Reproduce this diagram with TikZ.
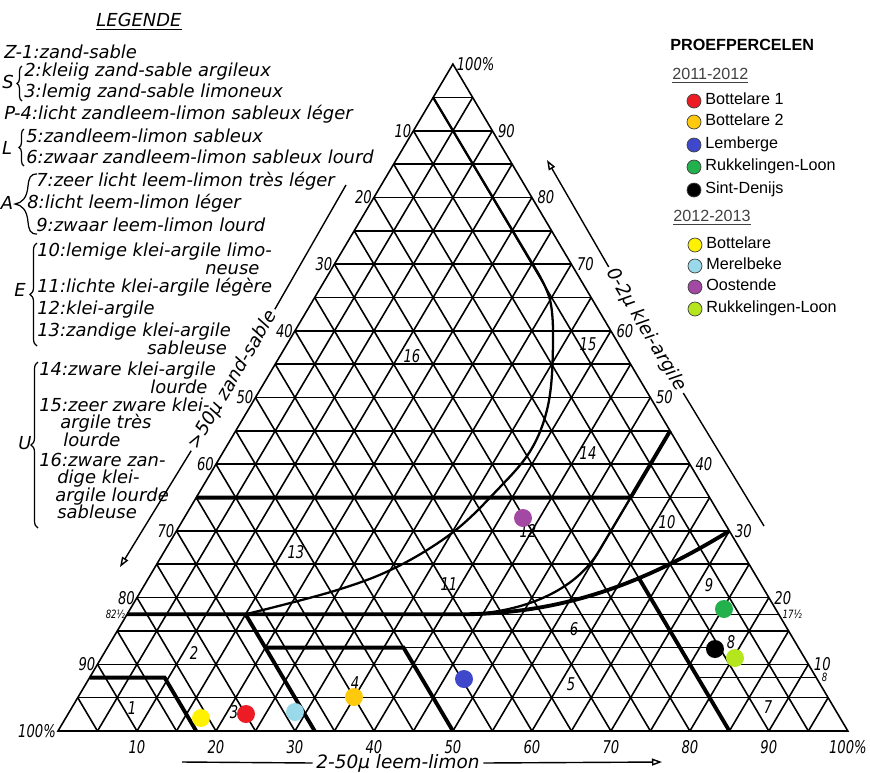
\documentclass[tikz,border=0pt]{standalone}
\usepackage{fontspec}
\newfontfamily\hand{DejaVu Sans}
\newfontfamily\handnarrow[FakeStretch=0.75]{DejaVu Sans}
\newfontfamily\legendfont{Liberation Sans}
\usetikzlibrary{arrows.meta,decorations.pathreplacing}

\definecolor{dotred}{HTML}{ED1C24}
\definecolor{dotorange}{HTML}{FFC90E}
\definecolor{dotblue}{HTML}{3F48CC}
\definecolor{dotgreen}{HTML}{22B14C}
\definecolor{dotyellow}{HTML}{FFF200}
\definecolor{dotcyan}{HTML}{99D9EA}
\definecolor{dotpurple}{HTML}{A349A4}
\definecolor{dotlime}{HTML}{B5E61D}

\tikzset{
  gridline/.style={line width=0.9pt},
  boundary/.style={line width=2.2pt},
  midline/.style={line width=1.3pt},
  ticklab/.style={font=\handnarrow\itshape\fontsize{10}{10}\selectfont, inner sep=0pt},
  smalllab/.style={font=\handnarrow\itshape\fontsize{6.5}{6.5}\selectfont, inner sep=0pt},
  region/.style={font=\handnarrow\itshape\fontsize{10}{10}\selectfont, inner sep=0pt},
  axislabel/.style={font=\hand\itshape\fontsize{10.5}{10.5}\selectfont, inner sep=2pt},
  axisline/.style={line width=0.8pt},
  axisarrow/.style={line width=0.8pt, -{Triangle[open, length=0.2cm, width=0.14cm]}},
  legtext/.style={font=\hand\itshape\fontsize{10.2}{10.2}\selectfont, anchor=mid west, inner sep=0pt},
  grouplab/.style={font=\hand\itshape\fontsize{10.2}{10.2}\selectfont, inner sep=0pt},
  legbrace/.style={decorate, decoration={brace, amplitude=#1}, line width=0.7pt},
  sample/.style={circle, fill=#1, inner sep=0pt, minimum size=0.36cm},
  keydot/.style={circle, fill=#1, draw=black!75, line width=0.4pt, inner sep=0pt, minimum size=0.28cm},
  keytext/.style={font=\legendfont\fontsize{9.2}{9.2}\selectfont, anchor=mid west, inner sep=0pt},
}

\begin{document}
\begin{tikzpicture}[x=0.02cm, y=-0.02cm]
\useasboundingbox (0,0) rectangle (870,772);

% texture triangle, coordinates (silt, clay)
\begin{scope}[shift={(58,731)}, x={(0.158cm,0cm)}, y={(0.079cm,0.1334cm)}]
  \foreach \k in {5,10,...,95} {
    \draw[gridline] (0,\k) -- ({100-\k},\k);
    \draw[gridline] (\k,0) -- (\k,{100-\k});
    \draw[gridline] (\k,0) -- (0,\k);
  }
  \draw[gridline] (0,0) -- (100,0) -- (0,100) -- cycle;
  \draw[gridline] (20,12.5) -- (76.5,12.5);
  \draw[gridline] (42,17.5) -- (82.5,17.5);
  \draw[gridline] (77,8) -- (92,8);

  % class boundaries
  \draw[boundary] (0,8) -- (9.5,8) -- (17.5,0);
  \draw[boundary] (0,17.5) -- (42,17.5) .. controls (55,17.5) and (63,22) .. (70,30);
  \draw[boundary] (15,17.5) -- (32.5,0);
  \draw[boundary] (20,12.5) -- (37.5,12.5) -- (50,0);
  \draw[boundary] (85,0) -- (62.2,22.8);
  \draw[boundary] (0,35) -- (55,35) -- (55,45);
  \draw[midline] (55,35) -- (55,27) .. controls (55,21) and (50,17.8) .. (43,17.5);
  \draw[midline] plot[smooth, tension=0.6] coordinates {(15,17.5) (24.7,21.1) (30.6,24.6)
    (35.1,29.8) (37.5,36) (38.8,42) (37.7,48.6) (34.3,56.7) (30,64.6) (24.9,70.2)} -- (0,95);

  % scale labels
  \foreach \c [evaluate=\c as \lab using int(100-\c)] in {10,20,...,90}
    \node[ticklab, left=1pt] at (0,\c) {\lab};
  \node[ticklab, left=1pt] (sand100) at (0,0) {100\%};
  \foreach \c in {10,20,...,90}
    \node[ticklab, right=3pt] at ({100-\c},\c) {\c};
  \node[ticklab, right=2pt] (clay100) at (0,100) {100\%};
  \foreach \s in {10,20,...,90}
    \node[ticklab, below=5pt] at (\s,0) {\s};
  \node[ticklab, below=5pt] (silt100) at (100,0) {100\%};
  \node[smalllab, left=1pt] (sandextra) at (0,17.5) {82½};
  \node[smalllab, right=2pt] (clayextra) at (82.5,17.5) {17½};
  \node[smalllab, right=3pt] (claylow) at (92,8) {8};
\end{scope}

% axis titles
\node[axislabel, rotate=59.4] (sandlab) at (233,380) {>50μ zand-sable};
\coordinate (sandtop) at (346,185);
\coordinate (sandtip) at (120,567);
\draw[axisline] (sandlab.east) -- (sandtop);
\draw[axisarrow] (sandlab.west) -- (sandtip);

\node[axislabel, rotate=-59.4] (claylab) at (646,330) {0-2μ klei-argile};
\coordinate (claytip) at (547,160);
\coordinate (claybot) at (764,526);
\draw[axisarrow] (claylab.west) -- (claytip);
\draw[axisline] (claylab.east) -- (claybot);

\node[axislabel] (siltlab) at (398,763) {2-50μ leem-limon};
\coordinate (siltstart) at (182,762);
\coordinate (silttip) at (662,762);
\draw[axisline] (siltstart) -- (siltlab.west);
\draw[axisarrow] (siltlab.east) -- (silttip);

% class numbers
\node[region] (r1) at (132,708) {1};
\node[region] (r2) at (194,653) {2};
\node[region] (r3) at (234,712) {3};
\node[region] (r4) at (355,683) {4};
\node[region] (r5) at (571,684) {5};
\node[region] (r6) at (574,629) {6};
\node[region] (r7) at (768,707) {7};
\node[region] (r8) at (731,642) {8};
\node[region] (r9) at (709,585) {9};
\node[region] (r10) at (667,522) {10};
\node[region] (r11) at (449,584) {11};
\node[region] (r12) at (528,531) {12};
\node[region] (r13) at (296,552) {13};
\node[region] (r14) at (588,453) {14};
\node[region] (r15) at (588,344) {15};
\node[region] (r16) at (412,356) {16};

% sample plots
\node[sample=dotyellow] (bott3) at (201,718) {};
\node[sample=dotred] (bott1) at (246,714) {};
\node[sample=dotcyan] (merel) at (295,712) {};
\node[sample=dotorange] (bott2) at (354,697) {};
\node[sample=dotblue] (lemb) at (464,679) {};
\node[sample=dotpurple] (oost) at (523,518) {};
\node[sample=dotgreen] (rukk1) at (724,609) {};
\node[sample=black] (sint) at (715,649) {};
\node[sample=dotlime] (rukk2) at (735,658) {};

% legend (left)
\node[grouplab] (legtitle) at (139,22) {\underline{LEGENDE}};
\node[legtext] (z1) at (4,55) {Z-1:zand-sable};
\node[grouplab] (gs) at (8,82) {S};
\draw[legbrace=0.1cm] (22,101) -- (22,66);
\node[legtext] (s2) at (24,73) {2:kleiig zand-sable argileux};
\node[legtext] (s3) at (24,94) {3:lemig zand-sable limoneux};
\node[legtext] (p4) at (4,116) {P-4:licht zandleem-limon sableux léger};
\node[grouplab] (gl) at (7,148) {L};
\draw[legbrace=0.1cm] (24,166) -- (24,129);
\node[legtext] (l5) at (26,139) {5:zandleem-limon sableux};
\node[legtext] (l6) at (26,160) {6:zwaar zandleem-limon sableux lourd};
\node[grouplab] (ga) at (7,203) {A};
\draw[line width=0.7pt] (37,174) .. controls (30,174) and (29,178) .. (28,186)
  .. controls (27,198) and (22,203) .. (15,204) .. controls (22,205) and (27,210) .. (28,222)
  .. controls (29,230) and (30,234) .. (37,234);
\node[legtext] (a7) at (36,183) {7:zeer licht leem-limon très léger};
\node[legtext] (a8) at (27,205) {8:licht leem-limon léger};
\node[legtext] (a9) at (36,228) {9:zwaar leem-limon lourd};
\node[grouplab] (ge) at (20,290) {E};
\draw[legbrace=0.14cm] (37,346) -- (37,243);
\node[legtext] (e10) at (37,253) {10:lemige klei-argile limo-};
\node[legtext] (e10b) at (205,271) {neuse};
\node[legtext] (e11) at (37,289) {11:lichte klei-argile légère};
\node[legtext] (e12) at (37,311) {12:klei-argile};
\node[legtext] (e13) at (37,333) {13:zandige klei-argile};
\node[legtext] (e13b) at (147,351) {sableuse};
\node[grouplab] (gu) at (25,443) {U};
\draw[legbrace=0.14cm] (38,528) -- (38,362);
\node[legtext] (u14) at (39,372) {14:zware klei-argile};
\node[legtext] (u14b) at (150,390) {lourde};
\node[legtext] (u15) at (39,408) {15:zeer zware klei-};
\node[legtext] (u15b) at (60,425) {argile très};
\node[legtext] (u15c) at (63,443) {lourde};
\node[legtext] (u16) at (39,463) {16:zware zan-};
\node[legtext] (u16b) at (57,480) {dige klei-};
\node[legtext] (u16c) at (55,498) {argile lourde};
\node[legtext] (u16d) at (57,515) {sableuse};

% legend (right)
\node[keytext, font=\legendfont\bfseries\fontsize{9.2}{9.2}\selectfont] (proef) at (670,47) {PROEFPERCELEN};
\node[keytext, text=black!75] (year1) at (672,76) {\underline{2011-2012}};
\node[keydot=dotred] (k1) at (694,101) {};
\node[keytext] at (705,101) {Bottelare 1};
\node[keydot=dotorange] (k2) at (694,122) {};
\node[keytext] at (705,122) {Bottelare 2};
\node[keydot=dotblue] (k3) at (694,145) {};
\node[keytext] at (705,145) {Lemberge};
\node[keydot=dotgreen] (k4) at (694,167) {};
\node[keytext] at (705,167) {Rukkelingen-Loon};
\node[keydot=black] (k5) at (694,190) {};
\node[keytext] at (705,190) {Sint-Denijs};
\node[keytext, text=black!75] (year2) at (673,218) {\underline{2012-2013}};
\node[keydot=dotyellow] (k6) at (695,245) {};
\node[keytext] at (706,245) {Bottelare};
\node[keydot=dotcyan] (k7) at (695,266) {};
\node[keytext] at (706,266) {Merelbeke};
\node[keydot=dotpurple] (k8) at (695,287) {};
\node[keytext] at (706,287) {Oostende};
\node[keydot=dotlime] (k9) at (695,309) {};
\node[keytext] at (706,309) {Rukkelingen-Loon};
\end{tikzpicture}
\end{document}
